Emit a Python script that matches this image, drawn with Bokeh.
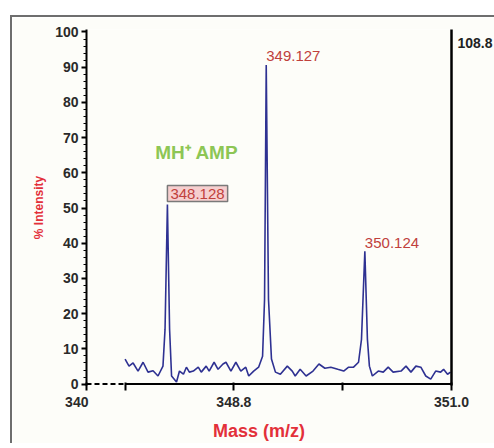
from bokeh.plotting import figure
from bokeh.models import Range1d, LinearAxis, FixedTicker, Label
from bokeh.embed import file_html
from bokeh.resources import INLINE

# ---- data ----
mz = [347.700, 347.740, 347.781, 347.831, 347.882, 347.932, 347.983, 348.033, 348.083,
      348.104, 348.128, 348.150, 348.170, 348.220, 348.250, 348.290, 348.320, 348.350,
      348.390, 348.440, 348.470, 348.520, 348.550, 348.600, 348.640, 348.690, 348.720,
      348.770, 348.820, 348.870, 348.920, 348.950, 349.000, 349.050, 349.090, 349.110,
      349.127, 349.150, 349.180, 349.220, 349.270, 349.340, 349.390, 349.420, 349.470,
      349.530, 349.600, 349.660, 349.720, 349.780, 349.850, 349.910, 349.960, 350.010,
      350.060, 350.090, 350.124, 350.150, 350.170, 350.200, 350.260, 350.310, 350.360,
      350.410, 350.490, 350.540, 350.590, 350.640, 350.690, 350.740, 350.790, 350.840,
      350.890, 350.920, 350.960, 350.990]
intensity = [7.1, 5.1, 6.0, 3.7, 6.2, 3.4, 3.8, 2.3, 5.1,
             15.6, 51.0, 15.6, 2.3, 0.6, 3.7, 2.8, 4.8, 3.4,
             3.7, 4.8, 3.4, 5.1, 3.7, 6.2, 4.2, 5.7, 6.2,
             3.7, 6.2, 3.7, 4.8, 2.3, 3.7, 4.8, 7.9, 24.0,
             90.6, 24.0, 7.1, 3.4, 2.8, 5.1, 3.7, 2.3, 4.2,
             2.3, 3.7, 5.7, 4.5, 4.8, 4.2, 3.7, 4.8, 4.8,
             6.2, 12.7, 37.7, 12.7, 5.1, 2.3, 3.7, 3.4, 4.8,
             3.4, 3.7, 5.1, 3.4, 5.1, 4.8, 2.3, 1.4, 3.7,
             3.4, 4.2, 2.8, 3.4]

peak_mz = [348.128, 349.127, 350.124]
peak_label_y = [54.1, 93.1, 40.0]
peak_labels = ["348.128", "349.127", "350.124"]

x_start = 347.31          # broken-axis start (labelled 340)
data_start = 347.7
x_end = 351.0
x_ticks = [x_start, 347.7, 348.8, 349.9, 351.0]
x_tick_labels = ["340" + "\u00a0" * 5, "", "348.8", "", "351.0"]
y_ticks = [0, 10, 20, 30, 40, 50, 60, 70, 80, 90, 100]
right_tick = [96.8]
right_tick_label = ["108.8"]

FONT = "Liberation Sans"
BG = "#fdfdf9"
RED = "#e3303a"
PEAK_RED = "#c0403c"

p = figure(frame_width=365, frame_height=356,
           x_range=Range1d(x_start, x_end), y_range=Range1d(-0.4, 100.7),
           output_backend="svg", toolbar_location=None,
           min_border_left=74, min_border_right=41, min_border_top=12, min_border_bottom=52,
           background_fill_color=BG, border_fill_color=BG, outline_line_color=None)
p.styles = {"margin-left": "10px", "margin-top": "15px",
            "border-left": "2px solid #6e6e6e", "border-top": "2px solid #6e6e6e"}

p.xgrid.visible = False
p.ygrid.visible = False

# y axis
ya = p.yaxis[0]
ya.ticker = FixedTicker(ticks=y_ticks, minor_ticks=list(range(0, 101, 2)))
ya.axis_line_width = 2
ya.axis_line_color = "black"
ya.major_tick_line_width = 2
ya.major_tick_out = 5
ya.major_tick_in = 0
ya.minor_tick_out = 3
ya.minor_tick_in = 0
ya.minor_tick_line_width = 1
ya.major_label_text_font = FONT
ya.major_label_text_font_style = "bold"
ya.major_label_text_font_size = "14px"
ya.major_label_text_color = "#2a2a2a"
ya.major_label_standoff = 3
ya.axis_label = "% Intensity"
ya.axis_label_text_font = FONT
ya.axis_label_text_font_style = "bold"
ya.axis_label_text_font_size = "12px"
ya.axis_label_text_color = RED
ya.axis_label_standoff = 6

# x axis (line drawn by segments below to get the dashed break)
xa = p.xaxis[0]
xa.ticker = FixedTicker(ticks=x_ticks, minor_ticks=[])
xa.major_label_overrides = {t: l for t, l in zip(x_ticks, x_tick_labels)}
xa.axis_line_color = None
xa.major_tick_line_width = 2
xa.major_tick_out = 5
xa.major_tick_in = 3
xa.major_label_text_font = FONT
xa.major_label_text_font_style = "bold"
xa.major_label_text_font_size = "14px"
xa.major_label_text_color = "#2a2a2a"
xa.major_label_standoff = 3
xa.axis_label = "Mass (m/z)" + "\u00a0" * 4
xa.axis_label_text_font = FONT
xa.axis_label_text_font_style = "bold"
xa.axis_label_text_font_size = "18px"
xa.axis_label_text_color = RED
xa.axis_label_standoff = 8

# right axis (plain line with the top value)
ra = LinearAxis(ticker=FixedTicker(ticks=right_tick, minor_ticks=[]),
                major_label_overrides={t: l for t, l in zip(right_tick, right_tick_label)},
                axis_line_width=2.5, axis_line_color="black",
                major_tick_line_color=None, minor_tick_line_color=None,
                major_tick_out=0, major_tick_in=0, major_label_standoff=6,
                major_label_text_font=FONT, major_label_text_font_style="bold",
                major_label_text_font_size="14px", major_label_text_color="#222222")
p.add_layout(ra, "right")

# x axis line: dashed break then solid
p.segment(x0=[x_start], y0=[0], x1=[data_start], y1=[0],
          line_color="black", line_width=2, line_dash="5 3")
p.segment(x0=[data_start], y0=[0], x1=[x_end], y1=[0],
          line_color="black", line_width=2)

# spectrum
p.line(mz, intensity, line_color="#2e3192", line_width=1.6)

# peak labels
for i, (xm, ym, txt) in enumerate(zip(peak_mz, peak_label_y, peak_labels)):
    kw = dict(x=xm, y=ym, text=txt, text_align="left", text_baseline="middle",
              text_font=FONT, text_font_size="15px", text_color=PEAK_RED)
    if i == 0:
        kw.update(background_fill_color="#f6cfcf", border_line_color="#7a7a7a",
                  border_line_width=1.5, padding=3)
    p.add_layout(Label(**kw))

# compound label
p.add_layout(Label(x=348.425, y=65.7, text="MH\u207a AMP", text_align="center",
                   text_baseline="middle", text_font=FONT, text_font_style="bold",
                   text_font_size="19px", text_color="#8dc655"))

open("out.html", "w").write(file_html(p, INLINE))
